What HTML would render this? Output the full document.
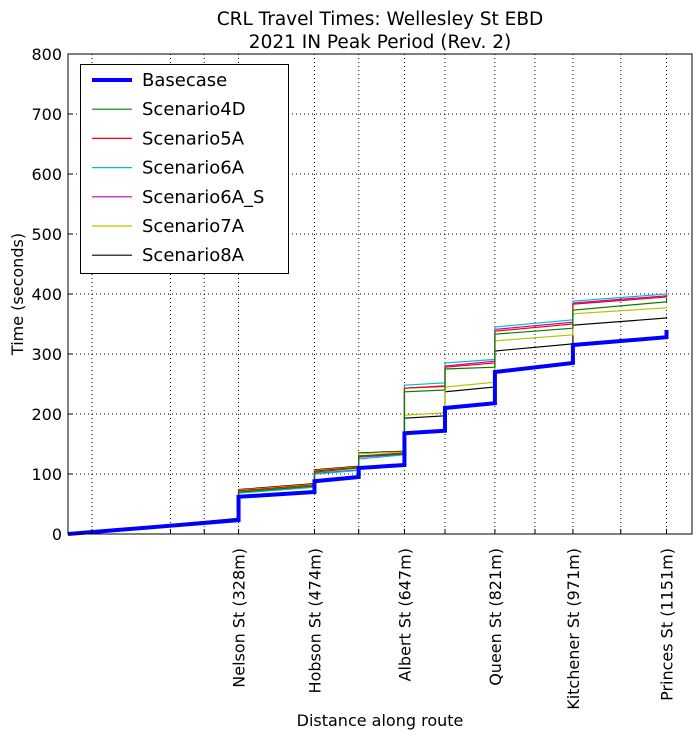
<!DOCTYPE html>
<html><head><meta charset="utf-8"><style>
body{margin:0;background:#fff}
svg{display:block;font-family:"DejaVu Sans","Liberation Sans",sans-serif}
</style></head><body>
<svg id="chart" width="700" height="741">
<text x="380" y="25" text-anchor="middle" font-size="18.5">CRL Travel Times: Wellesley St EBD</text>
<text x="380" y="48" text-anchor="middle" font-size="18.5">2021 IN Peak Period (Rev. 2)</text>
<text x="380" y="726" text-anchor="middle" font-size="16">Distance along route</text>
<text x="23" y="294" text-anchor="middle" font-size="16" transform="rotate(-90 23 294)">Time (seconds)</text>
<g id="grid"></g><g id="series"></g><g id="axes"></g><g id="legend"></g>
</svg>
<script>
const yTicks=[0,100,200,300,400,500,600,700,800];
const gridDist=[46,197,262,328,474,559,647,725,821,898,971,1063,1151];
const stationNames=["Nelson St (328m)","Hobson St (474m)","Albert St (647m)","Queen St (821m)","Kitchener St (971m)","Princes St (1151m)"];
const stationDist=[328,474,647,821,971,1151];
const stopDist=[328,474,559,647,725,821,971,1151];
const seriesNames=["Basecase","Scenario4D","Scenario5A","Scenario6A","Scenario6A_S","Scenario7A","Scenario8A"];
const seriesColors=["#0000ff","#008000","#ff0000","#00bfbf","#bf00bf","#bfbf00","#000000"];
const basecase=[0,23,62,70,88,95,110,115,168,172,210,218,270,285,315,328,340];
const scen4D=[0,24,70,80,103,110,130,134,237,240,275,278,333,343,373,387,392];
const scen5A=[0,24,72,82,105,111,130,135,243,246,278,285,338,350,383,395,398];
const scen6A=[0,23,68,78,100,106,125,132,248,252,285,291,345,357,388,400,405];
const scen6AS=[0,23,69,79,101,107,128,133,243,247,280,288,341,353,385,397,400];
const scen7A=[0,25,73,83,106,112,134,137,198,202,245,253,322,332,367,377,380];
const scen8A=[0,26,74,84,107,113,135,138,193,197,237,245,305,317,348,360,362];
const allSeries=[basecase,scen4D,scen5A,scen6A,scen6AS,scen7A,scen8A];
const L=68,R=692,T=54,B=534,XMAX=1200,YMAX=800;
const xs=d=>L+d/XMAX*(R-L), ys=v=>B-v/YMAX*(B-T);
const NS="http://www.w3.org/2000/svg";
function mk(tag,attrs,parent){const e=document.createElementNS(NS,tag);for(const k in attrs)e.setAttribute(k,attrs[k]);parent.appendChild(e);return e;}
const grid=document.getElementById('grid'),axes=document.getElementById('axes'),ser=document.getElementById('series'),leg=document.getElementById('legend');
gridDist.forEach(d=>{const l=mk('line',{x1:xs(d),x2:xs(d),y1:T,y2:B,stroke:'#000','stroke-width':1,'stroke-dasharray':'1,3'},grid);


const t1=mk('line',{x1:xs(d),x2:xs(d),y1:B,y2:B-5,stroke:'#000'},axes);

});
yTicks.forEach(v=>{if(v>0&&v<800){const l=mk('line',{x1:L,x2:R,y1:ys(v),y2:ys(v),stroke:'#000','stroke-width':1,'stroke-dasharray':'1,3'},grid);

}
const t=mk('text',{x:L-6,y:ys(v)+6,'text-anchor':'end','font-size':16},axes);t.textContent=v;


const tk=mk('line',{x1:L,x2:L+5,y1:ys(v),y2:ys(v),stroke:'#000'},axes);

});
stationNames.forEach((n,i)=>{const x=xs(stationDist[i])+6,y=548;const t=mk('text',{x:x,y:y,'text-anchor':'end','font-size':16,transform:`rotate(-90 ${x} ${y})`},axes);t.textContent=n;

});
for(let s=allSeries.length-1;s>=0;s--){const v=allSeries[s];let pts=[[xs(0),ys(v[0])]];
stopDist.forEach((d,k)=>{pts.push([xs(d),ys(v[1+2*k])]);pts.push([xs(d),ys(v[2+2*k])]);});
const p=mk('polyline',{points:pts.map(p=>p.join(',')).join(' '),fill:'none',stroke:seriesColors[s],'stroke-width':s==0?4:1.2},ser);

}
const box=mk('rect',{x:L,y:T,width:R-L,height:B-T,fill:'none',stroke:'#000','stroke-width':1},axes);


const lb=mk('rect',{x:80.5,y:64.5,width:208,height:209,fill:'#fff',stroke:'#000'},leg);


seriesNames.forEach((n,i)=>{const y=80+i*29.2;const l=mk('line',{x1:92,x2:132,y1:y,y2:y,stroke:seriesColors[i],'stroke-width':i==0?4:1.2},leg);


const t=mk('text',{x:142,y:y+6,'font-size':18},leg);t.textContent=n;

});
</script>
</body></html>
